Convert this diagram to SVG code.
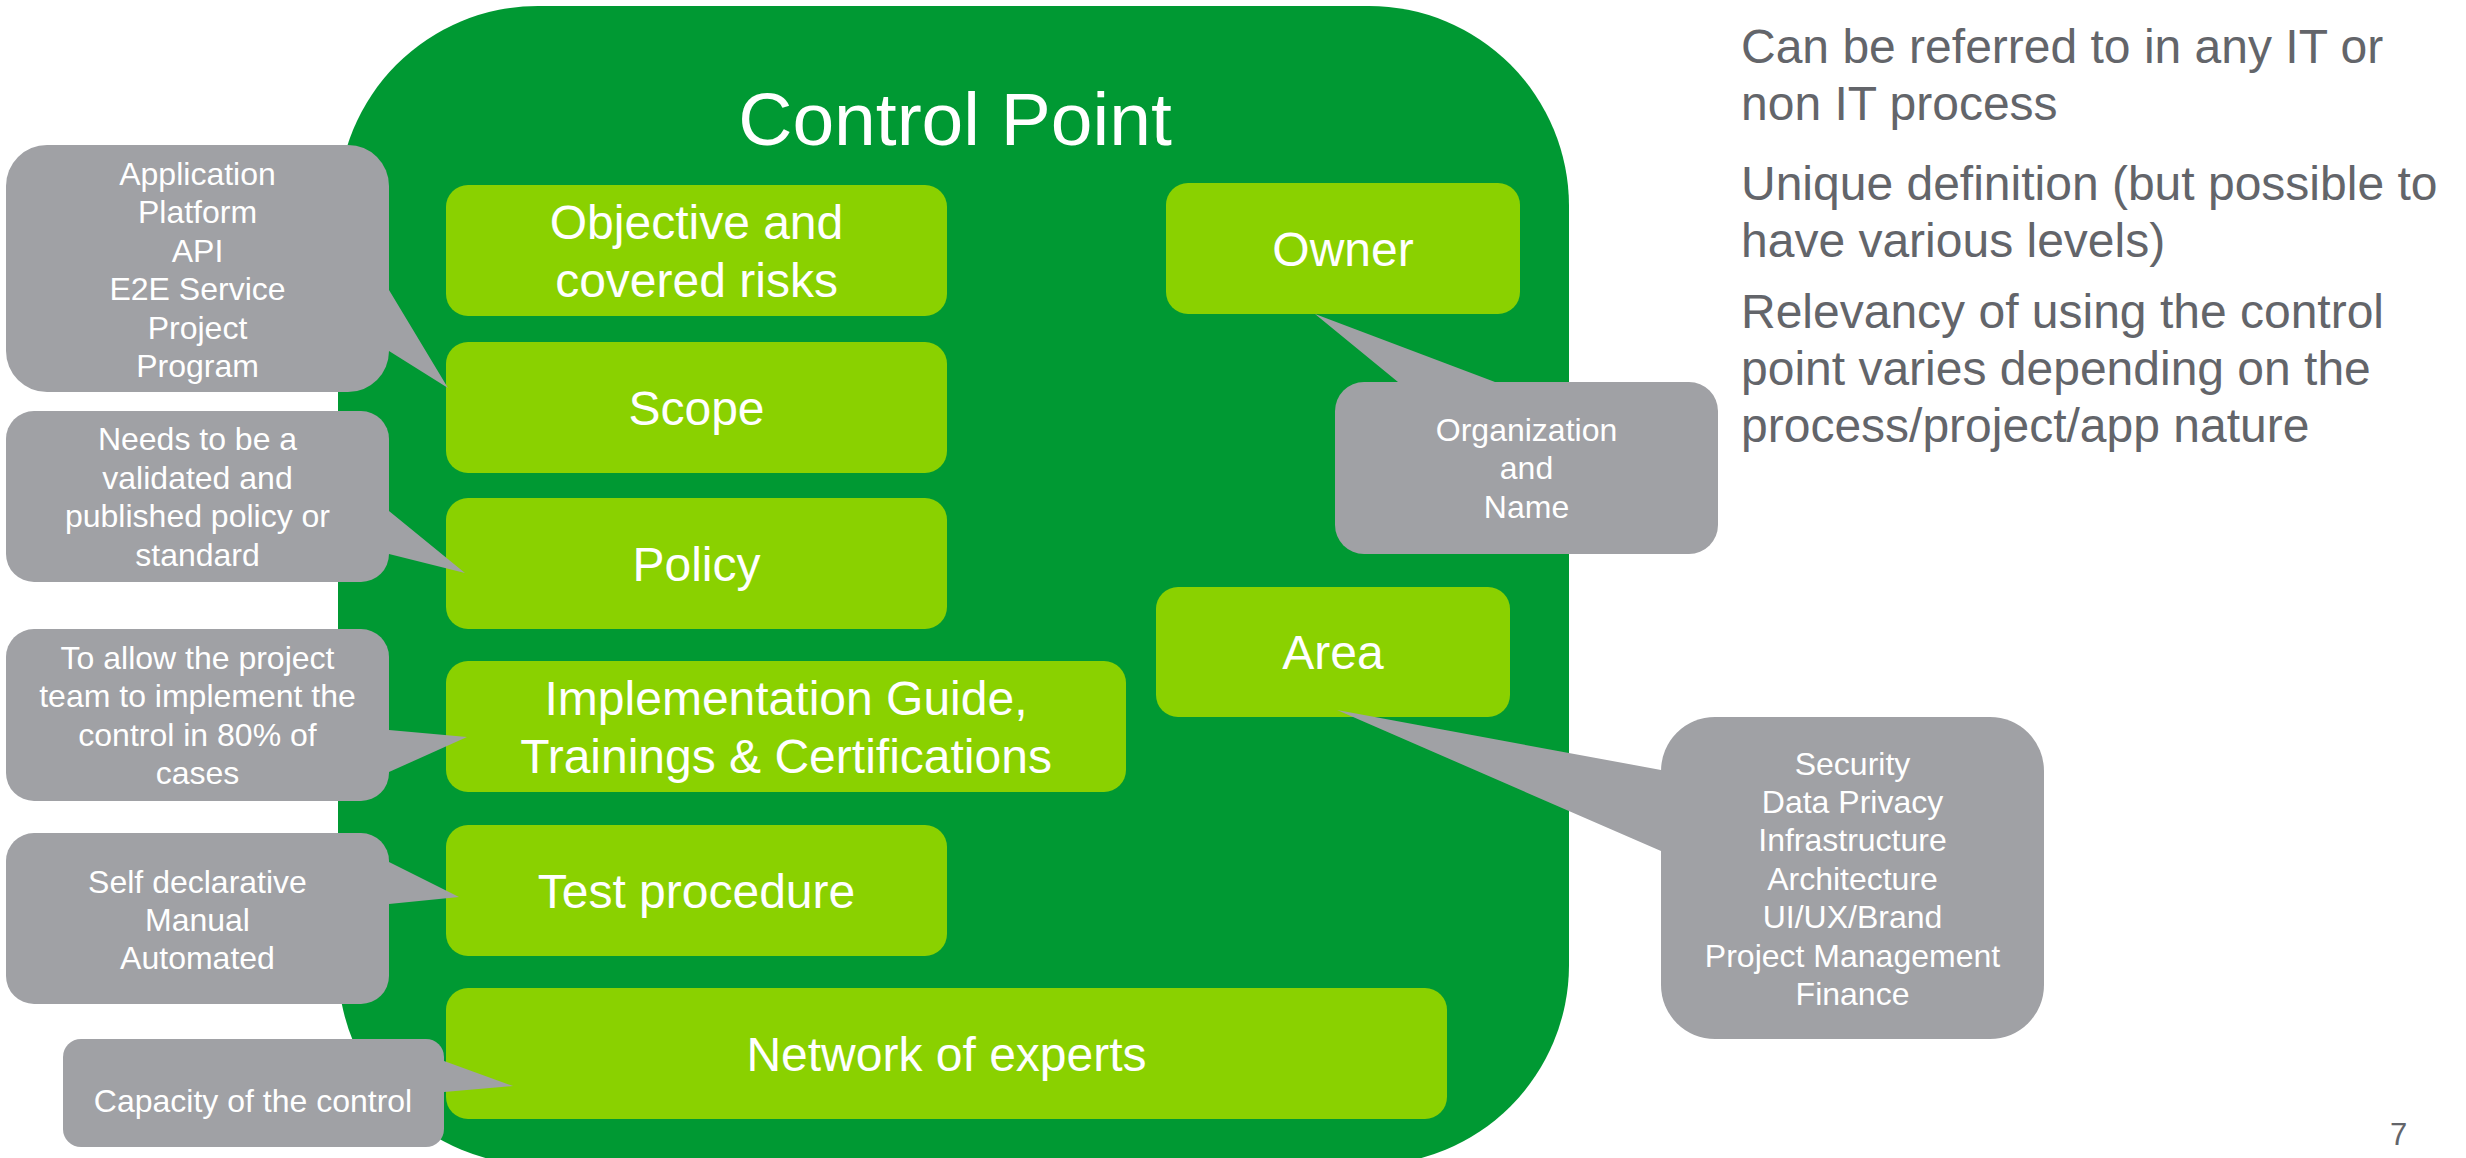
<svg xmlns="http://www.w3.org/2000/svg" width="2466" height="1158" viewBox="0 0 2466 1158">
<style>
  text { font-family: "Liberation Sans", Arial, sans-serif; }
  .bg { fill: #FFFFFF; }
  .main { fill: #009933; }
  .box { fill: #8AD100; }
  .call { fill: #A0A1A5; }
  .lbl { fill: #FFFFFF; font-size: 48px; text-anchor: middle; }
  .title { fill: #FFFFFF; font-size: 75px; text-anchor: middle; }
  .ctext { fill: #FFFFFF; font-size: 32px; text-anchor: middle; }
  .note { fill: #63656A; font-size: 48px; }
  .pg { fill: #63656A; font-size: 31px; text-anchor: middle; }
</style>
<rect class="bg" x="0" y="0" width="2466" height="1158"/>

<g id="control-point">
  <rect class="main" x="338" y="6" width="1231" height="1159" rx="200" ry="200"/>
  <text class="title" x="955" y="145">Control Point</text>
</g>

<g id="objective">
  <rect class="box" x="446" y="185" width="501" height="131" rx="22"/>
  <text class="lbl" x="696.5" y="238.5">Objective and</text>
  <text class="lbl" x="696.5" y="296.5">covered risks</text>
</g>
<g id="scope">
  <rect class="box" x="446" y="342" width="501" height="131" rx="22"/>
  <text class="lbl" x="696.5" y="424.5">Scope</text>
</g>
<g id="policy">
  <rect class="box" x="446" y="498" width="501" height="131" rx="22"/>
  <text class="lbl" x="696.5" y="580.5">Policy</text>
</g>
<g id="implementation">
  <rect class="box" x="446" y="661" width="680" height="131" rx="22"/>
  <text class="lbl" x="786" y="714.5">Implementation Guide,</text>
  <text class="lbl" x="786" y="772.5">Trainings &amp; Certifications</text>
</g>
<g id="test">
  <rect class="box" x="446" y="825" width="501" height="131" rx="22"/>
  <text class="lbl" x="696.5" y="907.5">Test procedure</text>
</g>
<g id="network">
  <rect class="box" x="446" y="988" width="1001" height="131" rx="22"/>
  <text class="lbl" x="946.5" y="1070.5">Network of experts</text>
</g>
<g id="owner">
  <rect class="box" x="1166" y="183" width="354" height="131" rx="22"/>
  <text class="lbl" x="1343" y="265.5">Owner</text>
</g>
<g id="area">
  <rect class="box" x="1156" y="587" width="354" height="130" rx="22"/>
  <text class="lbl" x="1333" y="669">Area</text>
</g>

<g id="connectors">
  <polygon class="call" points="370,290 389,290 448,388 389,351 370,351"/>
  <polygon class="call" points="370,511 389,511 465,573 389,554 370,554"/>
  <polygon class="call" points="370,730 389,730 467,737 389,772 370,772"/>
  <polygon class="call" points="370,862 389,862 459,897 389,904 370,904"/>
  <polygon class="call" points="425,1061 444,1061 513,1086 444,1092 425,1092"/>
  <polygon class="call" points="1398,400 1398,382 1315,314 1495,382 1495,400"/>
  <polygon class="call" points="1680,770 1661,770 1337,710 1661,851 1680,851"/>
</g>

<g id="callout-scope">
  <rect class="call" x="6" y="145" width="383" height="247" rx="41"/>
  <text class="ctext" x="197.5" y="185">Application</text>
  <text class="ctext" x="197.5" y="223.4">Platform</text>
  <text class="ctext" x="197.5" y="261.8">API</text>
  <text class="ctext" x="197.5" y="300.2">E2E Service</text>
  <text class="ctext" x="197.5" y="338.6">Project</text>
  <text class="ctext" x="197.5" y="377">Program</text>
</g>
<g id="callout-policy">
  <rect class="call" x="6" y="411" width="383" height="171" rx="28"/>
  <text class="ctext" x="197.5" y="450.4">Needs to be a</text>
  <text class="ctext" x="197.5" y="488.8">validated and</text>
  <text class="ctext" x="197.5" y="527.2">published policy or</text>
  <text class="ctext" x="197.5" y="565.6">standard</text>
</g>
<g id="callout-implementation">
  <rect class="call" x="6" y="629" width="383" height="172" rx="28"/>
  <text class="ctext" x="197.5" y="669">To allow the project</text>
  <text class="ctext" x="197.5" y="707.4">team to implement the</text>
  <text class="ctext" x="197.5" y="745.8">control in 80% of</text>
  <text class="ctext" x="197.5" y="784.2">cases</text>
</g>
<g id="callout-test">
  <rect class="call" x="6" y="833" width="383" height="171" rx="28"/>
  <text class="ctext" x="197.5" y="892.5">Self declarative</text>
  <text class="ctext" x="197.5" y="930.9">Manual</text>
  <text class="ctext" x="197.5" y="969.3">Automated</text>
</g>
<g id="callout-network">
  <rect class="call" x="63" y="1039" width="381" height="108" rx="18"/>
  <text class="ctext" x="253" y="1112">Capacity of the control</text>
</g>
<g id="callout-owner">
  <rect class="call" x="1335" y="382" width="383" height="172" rx="29"/>
  <text class="ctext" x="1526.5" y="441">Organization</text>
  <text class="ctext" x="1526.5" y="479.4">and</text>
  <text class="ctext" x="1526.5" y="517.8">Name</text>
</g>
<g id="callout-area">
  <rect class="call" x="1661" y="717" width="383" height="322" rx="54"/>
  <text class="ctext" x="1852.5" y="774.5">Security</text>
  <text class="ctext" x="1852.5" y="812.9">Data Privacy</text>
  <text class="ctext" x="1852.5" y="851.3">Infrastructure</text>
  <text class="ctext" x="1852.5" y="889.7">Architecture</text>
  <text class="ctext" x="1852.5" y="928.1">UI/UX/Brand</text>
  <text class="ctext" x="1852.5" y="966.5">Project Management</text>
  <text class="ctext" x="1852.5" y="1004.9">Finance</text>
</g>

<g id="notes">
  <text class="note" x="1741" y="63">Can be referred to in any IT or</text>
  <text class="note" x="1741" y="120">non IT process</text>
  <text class="note" x="1741" y="200">Unique definition (but possible to</text>
  <text class="note" x="1741" y="257">have various levels)</text>
  <text class="note" x="1741" y="328">Relevancy of using the control</text>
  <text class="note" x="1741" y="385">point varies depending on the</text>
  <text class="note" x="1741" y="442">process/project/app nature</text>
</g>
<text class="pg" x="2398.5" y="1145">7</text>
</svg>
